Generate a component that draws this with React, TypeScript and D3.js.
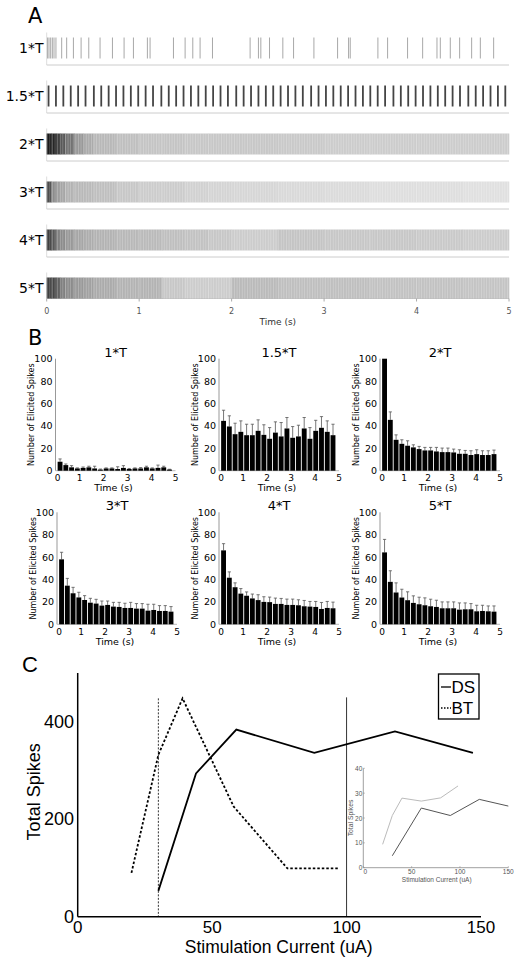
import React from 'react';
import * as d3 from 'd3';

// ---------- Panel A data ----------
const rowLabels = ['1*T', '1.5*T', '2*T', '3*T', '4*T', '5*T'];
const spikeTimes1T = [0.01, 0.025, 0.043, 0.061, 0.079, 0.1, 0.162, 0.216, 0.289, 0.372, 0.455, 0.577, 0.711, 0.837, 0.938, 1.089, 1.118, 1.371, 1.497, 1.58, 1.659, 1.793, 2.2, 2.29, 2.316, 2.41, 2.554, 2.67, 2.89, 3.146, 3.265, 3.283, 3.582, 3.687, 3.903, 4.066, 4.221, 4.257, 4.365, 4.466, 4.596, 4.69, 4.834];
const spikeTimes15T = [0.02, 0.1, 0.18, 0.26, 0.34, 0.42, 0.51, 0.59, 0.67, 0.75, 0.83, 0.91, 0.99, 1.07, 1.15, 1.24, 1.32, 1.4, 1.48, 1.56, 1.64, 1.72, 1.8, 1.88, 1.96, 2.05, 2.13, 2.21, 2.29, 2.37, 2.45, 2.53, 2.61, 2.69, 2.77, 2.86, 2.94, 3.02, 3.1, 3.18, 3.26, 3.34, 3.42, 3.5, 3.58, 3.66, 3.75, 3.83, 3.91, 3.99, 4.07, 4.15, 4.23, 4.31, 4.39, 4.47, 4.56, 4.64, 4.72, 4.8, 4.88, 4.96];
const densityEdges = [0, 0.05, 0.1, 0.15, 0.2, 0.3, 0.4, 0.5, 0.75, 1, 1.25, 1.5, 1.75, 2, 2.5, 3, 3.5, 4, 4.5, 5];
const density2T = [0.9, 0.85, 0.75, 0.65, 0.55, 0.4, 0.33, 0.28, 0.25, 0.23, 0.23, 0.22, 0.22, 0.22, 0.21, 0.2, 0.2, 0.2, 0.2];
const density3T = [0.7, 0.45, 0.38, 0.35, 0.3, 0.28, 0.27, 0.25, 0.22, 0.2, 0.2, 0.18, 0.17, 0.16, 0.15, 0.14, 0.13, 0.13, 0.12];
const density4T = [0.75, 0.65, 0.5, 0.45, 0.4, 0.35, 0.32, 0.3, 0.28, 0.27, 0.25, 0.24, 0.22, 0.2, 0.23, 0.22, 0.22, 0.21, 0.2];
const density5T = [0.75, 0.72, 0.62, 0.5, 0.45, 0.4, 0.37, 0.33, 0.3, 0.3, 0.22, 0.2, 0.2, 0.27, 0.25, 0.25, 0.24, 0.24, 0.23];
const timeTicks = [0, 1, 2, 3, 4, 5];

// ---------- Panel B data ----------
const psthTitles = ['1*T', '1.5*T', '2*T', '3*T', '4*T', '5*T'];
const binCenters = [0.19, 0.43, 0.67, 0.91, 1.15, 1.39, 1.63, 1.87, 2.11, 2.35, 2.59, 2.83, 3.07, 3.31, 3.55, 3.79, 4.03, 4.27, 4.51, 4.75];
const mean1T = [8, 5, 3, 2, 2.5, 3, 2, 1, 2, 2, 1.5, 2.5, 1.5, 2, 2, 3, 2, 2.5, 3, 1];
const err1T = [2.5, 1, 1.5, 0.5, 0.8, 1, 2, 0.5, 0.5, 0.5, 2, 2, 0.5, 0.5, 0.8, 1, 0.5, 2.5, 1, 0.3];
const mean15T = [44.5, 39.5, 32.6, 34.7, 31.7, 31.7, 35.6, 32, 28.5, 34, 30.6, 37.7, 29.4, 30.6, 37.7, 28.5, 35.6, 38.3, 34.7, 31.7];
const err15T = [9.5, 9.5, 9.8, 9.8, 9.8, 9.8, 9.8, 9, 10, 9.6, 12.4, 9.8, 10, 10, 9.8, 10, 9.4, 10, 9.8, 9.8];
const mean2T = [100, 45.4, 27.6, 24, 22.3, 20.8, 19.3, 18.1, 18.1, 17.2, 16.6, 16.6, 16.3, 15.1, 15.1, 14, 14.8, 14, 14, 14.8];
const err2T = [0, 7.1, 4.4, 3.6, 4.4, 2.3, 2.4, 2.7, 2.7, 3.6, 3.6, 3.6, 3, 3.6, 3, 3.8, 3.9, 3.8, 3.8, 3.6];
const mean3T = [58, 34.5, 27.7, 24, 21.7, 19.3, 18.5, 16.7, 17.3, 15.8, 15.5, 14.6, 14.6, 14, 14, 12.2, 12.8, 11.9, 11.9, 11.3];
const err3T = [6.3, 6.5, 5.3, 4.6, 3.9, 3.9, 3.8, 4.1, 3.5, 3.8, 4.1, 4.2, 5, 4.5, 4.5, 5.7, 5.1, 4.8, 4.8, 4.5];
const mean4T = [66, 41.6, 33.1, 27.4, 25.5, 23.1, 21.6, 20, 19.8, 18.2, 18.2, 17.3, 17.3, 17, 16.1, 15.8, 15.5, 13.7, 14.6, 14.3];
const err4T = [6, 5.2, 3.9, 4.5, 3.4, 3.9, 4.8, 4.6, 4.5, 5.2, 4.9, 5.2, 5.2, 4.9, 5.2, 4.6, 4.9, 5.8, 5.8, 5.5];
const mean5T = [64.2, 37.9, 28.4, 23.9, 21.5, 19.1, 17.9, 17, 16.1, 15.5, 14.3, 14.3, 14.3, 13.1, 13.4, 13.4, 11.6, 11.9, 11.6, 11.3];
const err5T = [11.6, 9.9, 8.6, 7.4, 7.5, 6.3, 6.3, 6.6, 6.3, 6, 5.7, 5.7, 5.7, 6, 5.7, 5.1, 5.4, 5.1, 4.8, 5.1];
const psthYTicks = [0, 20, 40, 60, 80, 100];

// ---------- Panel C data ----------
const dsCurrent = [30, 44, 59, 88, 118, 147];
const dsTotal = [53, 294, 384, 336, 380, 336];
const btCurrent = [20, 30, 39, 58, 78, 97];
const btTotal = [90, 332, 448, 226, 99, 99];
const thresholdBT = [30, 448];
const thresholdDS = [100, 450];
const cXTicks = [0, 50, 100, 150];
const cYTicks = [0, 200, 400];
const insetDsCurrent = [30, 60, 90, 120, 150];
const insetDsTotal = [4.8, 24, 21, 27.5, 24.8];
const insetBtCurrent = [20, 30, 40, 60, 80, 98];
const insetBtTotal = [9.4, 21, 28, 26.8, 28.1, 32.9];
const insetXTicks = [0, 50, 100, 150];
const insetYTicks = [0, 10, 20, 30, 40];

const SANS = 'DejaVu Sans, Verdana, sans-serif';
const HELV = 'Liberation Sans, Arial, sans-serif';

function Psth({ title, means, errs, x0, y0 }: { title: string; means: number[]; errs: number[]; x0: number; y0: number }) {
  const x = d3.scaleLinear().domain([0, 5]).range([x0, x0 + 120]);
  const y = d3.scaleLinear().domain([0, 100]).range([y0, y0 - 112]);
  const bw = x(0.24) - x(0) - 0.9;
  return (
    <g>
      <text x={x(2.5)} y={y(100) - 2} fontSize={13} fontFamily={SANS} textAnchor="middle">{title}</text>
      <line x1={x0} x2={x0} y1={y(0)} y2={y(100)} stroke="#999" strokeWidth={1} />
      <line x1={x0} x2={x(5)} y1={y0} y2={y0} stroke="#bbb" strokeWidth={1} />
      {means.map((m, i) => {
        const c = binCenters[i];
        const top = y(Math.min(100, m + errs[i]));
        return (
          <g key={i}>
            {errs[i] > 0 && <line x1={x(c)} x2={x(c)} y1={y(m)} y2={top} stroke="#555" strokeWidth={0.8} />}
            {errs[i] > 0 && <line x1={x(c) - 1.6} x2={x(c) + 1.6} y1={top} y2={top} stroke="#555" strokeWidth={0.8} />}
            <rect x={x(c) - bw / 2} y={y(m)} width={bw} height={y0 - y(m)} fill="#000" />
          </g>
        );
      })}
      {psthYTicks.map((t) => (
        <text key={t} x={x0 - 3} y={y(t)} fontSize={9.5} fontFamily={SANS} textAnchor="end" dominantBaseline="central">{t}</text>
      ))}
      {timeTicks.map((t) => (
        <text key={t} x={x(t) + (t === 0 ? 2 : 0)} y={y0 + 7.5} fontSize={9} fontFamily={SANS} textAnchor="middle" dominantBaseline="central">{t}</text>
      ))}
      <text x={x(2.5) - 2} y={y0 + 20.5} fontSize={9.5} fontFamily={SANS} textAnchor="middle">Time (s)</text>
      <text transform={`translate(${x0 - 24},${y(50)}) rotate(-90)`} fontSize={8} fontFamily={SANS} textAnchor="middle" dominantBaseline="central">Number of Elicited Spikes</text>
    </g>
  );
}

export default function App() {
  const xA = d3.scaleLinear().domain([0, 5]).range([46.7, 509]);
  const rowTop = (i: number) => 37.5 + 48 * i;
  const rowH = 21;
  const gray = d3.scaleLinear<string>().domain([0, 1]).range(['#ffffff', '#000000']);
  const denseRows = [density2T, density3T, density4T, density5T];

  const psthData = [
    [mean1T, err1T], [mean15T, err15T], [mean2T, err2T],
    [mean3T, err3T], [mean4T, err4T], [mean5T, err5T],
  ];
  const colX = [55.5, 219, 380];
  const rowY0 = [470.7, 624.3];

  const xC = d3.scaleLinear().domain([0, 150]).range([77.7, 481]);
  const yC = d3.scaleLinear().domain([0, 500]).range([916.7, 673]);
  const lineC = d3.line<number>();
  const dsPath = lineC(dsCurrent.map((c, i) => [xC(c), yC(dsTotal[i])]) as any);
  const btPath = lineC(btCurrent.map((c, i) => [xC(c), yC(btTotal[i])]) as any);

  const xI = d3.scaleLinear().domain([0, 150]).range([363.3, 508.3]);
  const yI = d3.scaleLinear().domain([0, 40]).range([867.7, 768.3]);
  const insetDsPath = lineC(insetDsCurrent.map((c, i) => [xI(c), yI(insetDsTotal[i])]) as any);
  const insetBtPath = lineC(insetBtCurrent.map((c, i) => [xI(c), yI(insetBtTotal[i])]) as any);

  return (
    <svg width={521} height={962} style={{ position: 'absolute', left: 0, top: 0, background: '#fff' }}>
      <defs>
        <pattern id="stripes" patternUnits="userSpaceOnUse" width={2.6} height={10}>
          <rect x={0} y={0} width={0.7} height={10} fill="#fff" opacity={0.3} />
        </pattern>
      </defs>
      <rect x={0} y={0} width={521} height={962} fill="#fff" />
      {/* Panel A */}
      <text x={28} y={22.7} fontSize={21} fontFamily={SANS}>A</text>
      {rowLabels.map((lab, i) => {
        const top = rowTop(i);
        const isLast = i === 5;
        const base = isLast ? top + rowH : top + 27.5;
        return (
          <g key={lab}>
            <text x={43.5} y={top + rowH / 2} fontSize={14} fontFamily={SANS} textAnchor="end" dominantBaseline="central">{lab}</text>
            <line x1={xA(0)} x2={xA(0)} y1={top - 5} y2={base} stroke="#ddd" strokeWidth={1} />
            <line x1={xA(0)} x2={xA(5)} y1={base} y2={base} stroke={isLast ? '#bbb' : '#ccc'} strokeWidth={1} />
            {i === 0 && spikeTimes1T.map((t, k) => (
              <line key={k} x1={xA(t)} x2={xA(t)} y1={top} y2={top + rowH} stroke="#a8a8a8" strokeWidth={1} />
            ))}
            {i === 1 && spikeTimes15T.map((t, k) => (
              <line key={k} x1={xA(t)} x2={xA(t)} y1={top} y2={top + rowH} stroke="#444" strokeWidth={1.8} />
            ))}
            {i >= 2 && denseRows[i - 2].map((d, k) => (
              <rect key={k} x={xA(densityEdges[k])} y={top} width={xA(densityEdges[k + 1]) - xA(densityEdges[k]) + 0.3} height={rowH} fill={gray(d)} />
            ))}
            {i >= 2 && (
              <rect x={xA(0)} y={top} width={xA(5) - xA(0)} height={rowH} fill="url(#stripes)" />
            )}
          </g>
        );
      })}
      {timeTicks.map((t) => (
        <g key={t}>
          <line x1={xA(t)} x2={xA(t)} y1={rowTop(5) + rowH} y2={rowTop(5) + rowH + 3} stroke="#aaa" />
          <text x={xA(t)} y={311.7} fontSize={8} fontFamily={SANS} fill="#555" textAnchor="middle" dominantBaseline="central">{t}</text>
        </g>
      ))}
      <text x={xA(2.5)} y={325} fontSize={9} fontFamily={SANS} fill="#333" textAnchor="middle">Time (s)</text>

      {/* Panel B */}
      <text x={28} y={345} fontSize={21} fontFamily={SANS}>B</text>
      {psthData.map((d, i) => (
        <Psth key={i} title={psthTitles[i]} means={d[0]} errs={d[1]} x0={colX[i % 3] + (i === 3 ? 1.5 : 0)} y0={rowY0[Math.floor(i / 3)]} />
      ))}

      {/* Panel C */}
      <text x={22} y={671.5} fontSize={22} fontFamily={HELV}>C</text>
      <line x1={xC(0)} x2={xC(0)} y1={yC(0)} y2={yC(500)} stroke="#000" strokeWidth={1.5} />
      <line x1={xC(0)} x2={xC(150)} y1={yC(0)} y2={yC(0)} stroke="#000" strokeWidth={1.5} />
      {cYTicks.map((t) => (
        <text key={t} x={74} y={yC(t)} fontSize={18} fontFamily={HELV} textAnchor="end" dominantBaseline="central">{t}</text>
      ))}
      {cXTicks.map((t) => (
        <text key={t} x={xC(t)} y={933} fontSize={17} fontFamily={HELV} textAnchor="middle">{t}</text>
      ))}
      <text x={278.7} y={953} fontSize={17.5} fontFamily={HELV} textAnchor="middle">Stimulation Current (uA)</text>
      <text transform={`translate(39.5,${yC(250) - 3}) rotate(-90)`} fontSize={18} fontFamily={HELV} textAnchor="middle">Total Spikes</text>

      <line x1={xC(thresholdBT[0])} x2={xC(thresholdBT[0])} y1={yC(thresholdBT[1])} y2={yC(0)} stroke="#000" strokeWidth={0.8} strokeDasharray="2,1.5" />
      <line x1={xC(thresholdDS[0])} x2={xC(thresholdDS[0])} y1={yC(thresholdDS[1])} y2={yC(0)} stroke="#000" strokeWidth={0.8} />
      <path d={btPath || ''} fill="none" stroke="#000" strokeWidth={1.8} strokeDasharray="2.5,2" />
      <path d={dsPath || ''} fill="none" stroke="#000" strokeWidth={1.8} />

      {/* Legend */}
      <rect x={438.5} y={674} width={40.5} height={45} fill="#fff" stroke="#000" strokeWidth={1.3} />
      <line x1={441} x2={451} y1={687} y2={687} stroke="#000" strokeWidth={1.3} />
      <text x={451.5} y={693} fontSize={17} fontFamily={HELV}>DS</text>
      <line x1={441} x2={451} y1={708} y2={708} stroke="#000" strokeWidth={1.3} strokeDasharray="1.5,1.5" />
      <text x={451.5} y={714} fontSize={17} fontFamily={HELV}>BT</text>

      {/* Inset */}
      <line x1={xI(0)} x2={xI(0)} y1={yI(0)} y2={yI(40)} stroke="#888" strokeWidth={0.8} />
      <line x1={xI(0)} x2={xI(150)} y1={yI(0)} y2={yI(0)} stroke="#888" strokeWidth={0.8} />
      {insetYTicks.map((t) => (
        <g key={t}>
          <line x1={xI(0)} x2={xI(0) + 1.5} y1={yI(t)} y2={yI(t)} stroke="#888" strokeWidth={0.6} />
          <text x={xI(0) - 1} y={yI(t)} fontSize={6.5} fontFamily={HELV} fill="#555" textAnchor="end" dominantBaseline="central">{t}</text>
        </g>
      ))}
      {insetXTicks.map((t) => (
        <g key={t}>
          <line x1={xI(t)} x2={xI(t)} y1={yI(0)} y2={yI(0) - 1.5} stroke="#888" strokeWidth={0.6} />
          <text x={xI(t) + (t === 0 ? 2 : 0)} y={yI(0) + 4} fontSize={6.5} fontFamily={HELV} fill="#555" textAnchor="middle" dominantBaseline="central">{t}</text>
        </g>
      ))}
      <text x={436.7} y={879} fontSize={6.5} fontFamily={HELV} fill="#555" textAnchor="middle" dominantBaseline="central">Stimulation Current (uA)</text>
      <text transform={`translate(350.7,818) rotate(-90)`} fontSize={6.8} fontFamily={HELV} fill="#555" textAnchor="middle" dominantBaseline="central">Total Spikes</text>
      <path d={insetBtPath || ''} fill="none" stroke="#bbb" strokeWidth={1} />
      <path d={insetDsPath || ''} fill="none" stroke="#555" strokeWidth={1} />
    </svg>
  );
}
